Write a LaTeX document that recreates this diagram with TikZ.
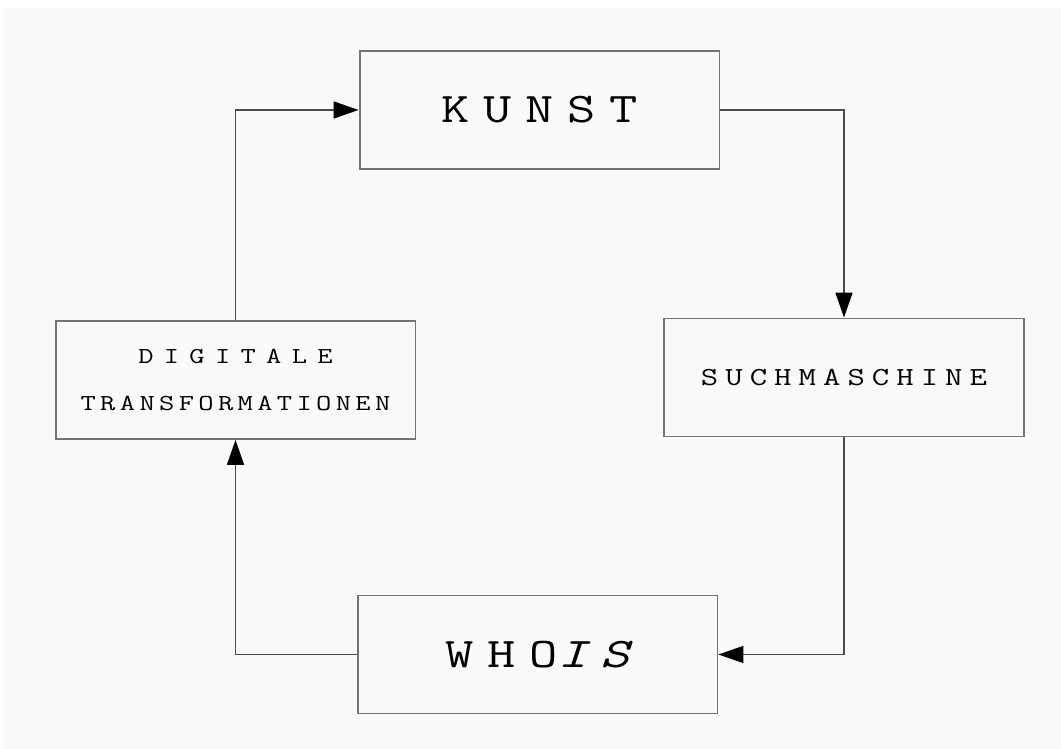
\documentclass[tikz,border=0pt]{standalone}
\usepackage{fontspec}
\newfontfamily\boxfont{Latin Modern Mono}[FakeStretch=1.3]
\usetikzlibrary{arrows.meta,positioning}

\newcommand{\spaced}[2]{{\addfontfeature{LetterSpace=#1}#2}}

\tikzset{
  box/.style={draw=black!55, line width=1.1pt, minimum width=7.2cm, minimum height=2.36cm, inner sep=0pt, font=\boxfont},
  conn/.style={draw=black!70, line width=0.9pt, -{Triangle[length=0.5cm,width=0.34cm,color=black]}}
}

\begin{document}
\begin{tikzpicture}[x=0.02cm, y=-0.02cm]
  \useasboundingbox (0,0) rectangle (1061,749);
  \fill[black!2] (3,8) rectangle (1061,749);

  \node[box] (kunst) at (539.5,110) {\fontsize{24}{28}\selectfont\spaced{33}{KUNST}};
  \node[box] (such) at (844,377.5) {\fontsize{14.8}{18}\selectfont\spaced{27}{SUCHMASCHINE}};
  \node[box] (whois) at (537.5,654.5) {\fontsize{24}{28}\selectfont\spaced{33}{WHO}{\itshape\spaced{33}{IS}}};
  \node[box, align=center] (digi) at (235.5,380) {\fontsize{13}{16}\selectfont\spaced{45}{DIGITALE}\\[0.5cm]\fontsize{13}{16}\selectfont\spaced{19}{TRANSFORMATIONEN}};

  \draw[conn] (kunst.east) -| (such.north);
  \draw[conn] (such.south) |- (whois.east);
  \draw[conn] (whois.west) -| (digi.south);
  \draw[conn] (digi.north) |- (kunst.west);
\end{tikzpicture}
\end{document}
